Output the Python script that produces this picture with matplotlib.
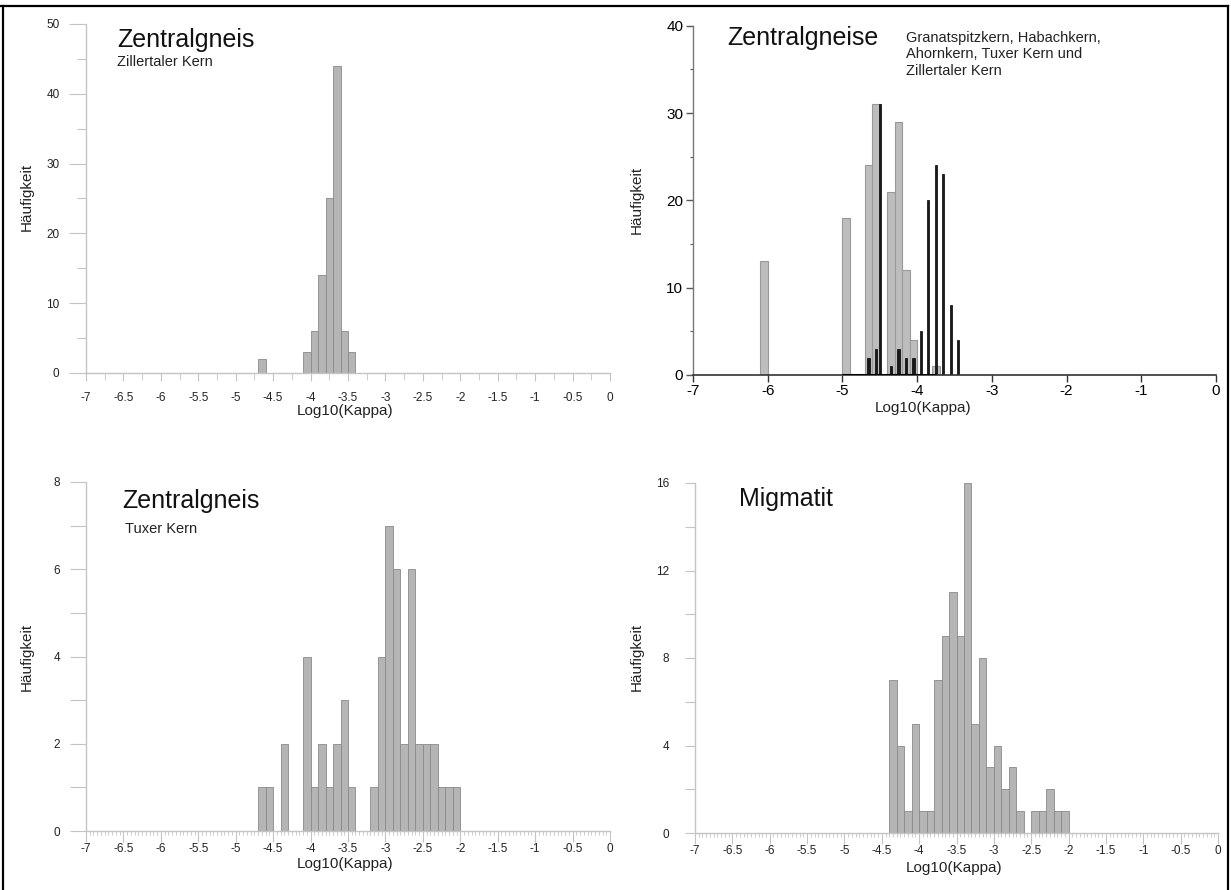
import numpy as np
import matplotlib
matplotlib.use("Agg")
import matplotlib.pyplot as plt
from matplotlib.lines import Line2D
from matplotlib.ticker import MultipleLocator

plt.rcParams['font.family'] = ['Liberation Sans', 'DejaVu Sans']
plt.rcParams['axes.unicode_minus'] = False

W, H = 1231, 890

# Zentralgneis, Zillertaler Kern (bin left edges, width 0.1)
zil_left = [-4.7, -4.1, -4.0, -3.9, -3.8, -3.7, -3.6, -3.5]
zil_cnt = [2, 3, 6, 14, 25, 44, 6, 3]

# Zentralgneise (all cores) - grey histogram + black thin bars
all_left = [-6.1, -5.0, -4.7, -4.6, -4.4, -4.3, -4.2, -4.1, -3.8]
all_cnt = [13, 18, 24, 31, 21, 29, 12, 4, 1]
blk_pos = [-4.65, -4.55, -4.50, -4.35, -4.25, -4.15, -4.05, -3.95,
           -3.85, -3.75, -3.65, -3.55, -3.45]
blk_cnt = [2, 3, 31, 1, 3, 2, 2, 5, 20, 24, 23, 8, 4]
blk_base = [-5.0, -3.75]

# Zentralgneis, Tuxer Kern
tux_left = [-4.7, -4.6, -4.4, -4.1, -4.0, -3.9, -3.8, -3.7, -3.6, -3.5,
            -3.2, -3.1, -3.0, -2.9, -2.8, -2.7, -2.6, -2.5, -2.4, -2.3,
            -2.2, -2.1]
tux_cnt = [1, 1, 2, 4, 1, 2, 1, 2, 3, 1, 1, 4, 7, 6, 2, 6, 2, 2, 2, 1, 1, 1]

# Migmatit
mig_left = [-4.4, -4.3, -4.2, -4.1, -4.0, -3.9, -3.8, -3.7, -3.6, -3.5,
            -3.4, -3.3, -3.2, -3.1, -3.0, -2.9, -2.8, -2.7, -2.5, -2.4,
            -2.3, -2.2, -2.1]
mig_cnt = [7, 4, 1, 5, 1, 1, 7, 9, 11, 9, 16, 5, 8, 3, 4, 2, 3, 1, 1, 1,
           2, 1, 1]

x_major = [-7, -6.5, -6, -5.5, -5, -4.5, -4, -3.5, -3, -2.5, -2, -1.5, -1, -0.5, 0]
x_labels = ['-7', '-6.5', '-6', '-5.5', '-5', '-4.5', '-4', '-3.5', '-3',
            '-2.5', '-2', '-1.5', '-1', '-0.5', '0']

BAR = '#b5b5b5'
EDGE = '#8a8a8a'
AX = '#c4c4c4'

fig = plt.figure(figsize=(W / 100, H / 100), dpi=100)


def rect(x0, x1, y0, y1):
    return [x0 / W, 1 - y0 / H, (x1 - x0) / W, (y0 - y1) / H]


def ftext(x, y, s, **kw):
    fig.text(x / W, 1 - y / H, s, **kw)


def light_axes(ax, ymax, ymaj, ymin, ylab, xminor, xmaj_len, xmin_len,
               ymaj_len, ymin_len, xpad, ypad):
    ax.set_xlim(-7, 0)
    ax.set_ylim(0, ymax)
    for s in ['top', 'right']:
        ax.spines[s].set_visible(False)
    for s in ['left', 'bottom']:
        ax.spines[s].set_color(AX)
        ax.spines[s].set_linewidth(1.0)
    ax.set_xticks(x_major)
    ax.set_xticklabels(x_labels)
    ax.xaxis.set_minor_locator(MultipleLocator(xminor))
    ax.set_yticks(ymaj)
    ax.set_yticklabels(ylab)
    ax.yaxis.set_minor_locator(MultipleLocator(ymin))
    ax.tick_params(axis='x', which='major', length=xmaj_len, width=0.8,
                   color=AX, labelsize=8.5, labelcolor='#222', pad=xpad)
    ax.tick_params(axis='x', which='minor', length=xmin_len, width=0.6,
                   color=AX)
    ax.tick_params(axis='y', which='major', length=ymaj_len, width=0.8,
                   color=AX, labelsize=8.5, labelcolor='#222', pad=ypad)
    ax.tick_params(axis='y', which='minor', length=ymin_len, width=0.8,
                   color=AX)
    ax.patch.set_alpha(0)


# ---- panel 1: Zillertaler Kern
ax1 = fig.add_axes(rect(86, 610, 373, 24))
ax1.bar(zil_left, zil_cnt, width=0.1, align='edge', color=BAR,
        edgecolor=EDGE, linewidth=0.6)
light_axes(ax1, 50, [0, 10, 20, 30, 40, 50], 5,
           ['0', '10', '20', '30', '40', '50'], 0.25, 6, 5, 12, 6.5, 8, 7)
ftext(117, 47, 'Zentralgneis', fontsize=18, color='#111')
ftext(117, 66, 'Zillertaler Kern', fontsize=10.5, color='#222')
ftext(27, 197, 'Häufigkeit', fontsize=11, rotation=90, ha='center',
      va='center', color='#222')
ftext(345, 411, 'Log10(Kappa)', fontsize=11, ha='center', va='center',
      color='#222')

# ---- panel 2: Zentralgneise
ax2 = fig.add_axes(rect(693, 1216, 375, 25.7))
ax2.bar(all_left, all_cnt, width=0.1, align='edge', color='#bdbdbd',
        edgecolor='#999999', linewidth=0.8)
ax2.bar(blk_pos, blk_cnt, width=0.03, color='#1a1a1a', edgecolor='#000000',
        linewidth=0.5)
ax2.hlines(0, blk_base[0], blk_base[1], color='black', linewidth=2.2,
           zorder=5)
ax2.set_xlim(-7, 0)
ax2.set_ylim(0, 40)
for s in ['top', 'right']:
    ax2.spines[s].set_visible(False)
ax2.spines['left'].set_color('#777777')
ax2.spines['bottom'].set_color('#333333')
ax2.spines['left'].set_linewidth(1.0)
ax2.spines['bottom'].set_linewidth(1.2)
ax2.set_xticks(np.arange(-7, 1, 1))
ax2.set_yticks([0, 10, 20, 30, 40])
ax2.yaxis.set_minor_locator(MultipleLocator(5))
ax2.tick_params(axis='x', which='major', length=5, width=1.0,
                color='#333', labelsize=11, pad=1.5)
ax2.tick_params(axis='y', which='major', length=5, width=1.0,
                color='#555', labelsize=11, pad=2)
ax2.tick_params(axis='y', which='minor', length=2.5, width=0.8,
                color='#555')
ax2.patch.set_alpha(0)
ftext(727, 45, 'Zentralgneise', fontsize=18, color='#111')
ftext(906, 42, 'Granatspitzkern, Habachkern,', fontsize=10.5, color='#222')
ftext(906, 58.5, 'Ahornkern, Tuxer Kern und', fontsize=10.5, color='#222')
ftext(906, 75, 'Zillertaler Kern', fontsize=10.5, color='#222')
ftext(637, 200, 'Häufigkeit', fontsize=11, rotation=90, ha='center',
      va='center', color='#222')
ftext(923, 408, 'Log10(Kappa)', fontsize=11, ha='center', va='center',
      color='#222')

# ---- panel 3: Tuxer Kern
ax3 = fig.add_axes(rect(86, 610, 831, 482))
ax3.bar(tux_left, tux_cnt, width=0.1, align='edge', color=BAR,
        edgecolor=EDGE, linewidth=0.6)
light_axes(ax3, 8, [0, 2, 4, 6, 8], 1, ['0', '2', '4', '6', '8'],
           0.05, 8, 3, 11.5, 11.5, 1.0, 7)
ftext(122, 508, 'Zentralgneis', fontsize=18, color='#111')
ftext(125, 533, 'Tuxer Kern', fontsize=10.5, color='#222')
ftext(27, 657, 'Häufigkeit', fontsize=11, rotation=90, ha='center',
      va='center', color='#222')
ftext(345, 864, 'Log10(Kappa)', fontsize=11, ha='center', va='center',
      color='#222')

# ---- panel 4: Migmatit
ax4 = fig.add_axes(rect(695, 1218, 833, 483))
ax4.bar(mig_left, mig_cnt, width=0.1, align='edge', color=BAR,
        edgecolor=EDGE, linewidth=0.6)
light_axes(ax4, 16, [0, 4, 8, 12, 16], 2, ['0', '4', '8', '12', '16'],
           0.05, 8, 3, 7.5, 7.5, 1.0, 11)
ftext(739, 506, 'Migmatit', fontsize=18, color='#111')
ftext(637, 657, 'Häufigkeit', fontsize=11, rotation=90, ha='center',
      va='center', color='#222')
ftext(954, 868, 'Log10(Kappa)', fontsize=11, ha='center', va='center',
      color='#222')

# outer frame
fig.add_artist(Line2D([3 / W, 3 / W], [0, 1 - 6 / H], color='black',
                      linewidth=1.6, transform=fig.transFigure))
fig.add_artist(Line2D([0, 1228 / W], [1 - 6 / H, 1 - 6 / H], color='black',
                      linewidth=1.6, transform=fig.transFigure))
fig.add_artist(Line2D([1228 / W, 1228 / W], [0, 1 - 6 / H], color='black',
                      linewidth=1.6, transform=fig.transFigure))

fig.savefig('out.png', dpi=100, facecolor='white')
